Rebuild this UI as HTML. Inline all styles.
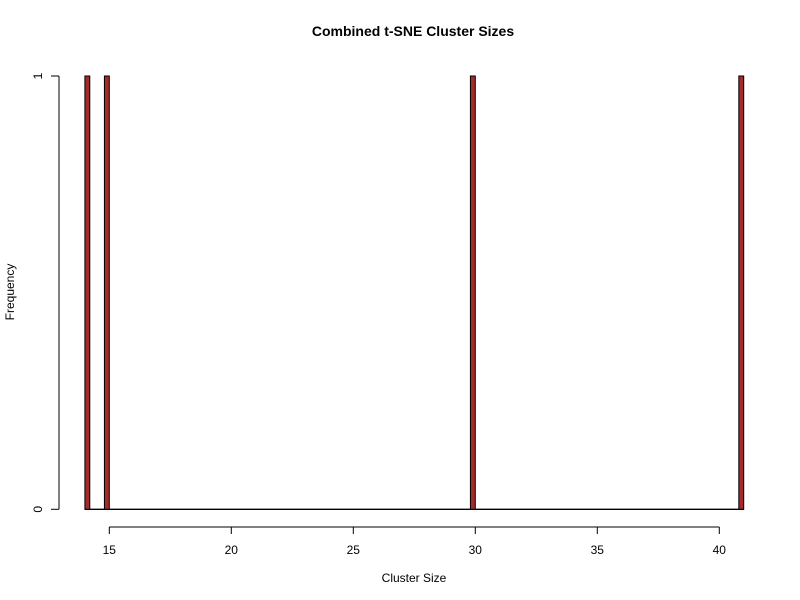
<!DOCTYPE html>
<html><head><meta charset="utf-8"><style>
body{margin:0;background:#fff;}
svg{display:block;font-family:"Liberation Sans",Arial,sans-serif;}
</style></head><body>
<svg id="chart" width="800" height="600">
<rect width="800" height="600" fill="#fff"/>
<text x="413" y="36" text-anchor="middle" font-weight="bold" font-size="14">Combined t-SNE Cluster Sizes</text>
<text x="414" y="582" text-anchor="middle" font-size="12">Cluster Size</text>
<text transform="translate(14,292) rotate(-90)" text-anchor="middle" font-size="12">Frequency</text>
<g id="bars"></g>
<g id="xaxis"></g>
<g id="yaxis"></g>
</svg>
<script>
const clusterSizes = [14, 15, 30, 41];
const xTicks = [15, 20, 25, 30, 35, 40];
const yTicks = [0, 1];
const binWidth = 0.2;
const NS = "http://www.w3.org/2000/svg";
function xs(v){ return 109.3 + (v - 15) * 24.4; }
function ys(v){ return 509.3 - v * 433.3; }
function mk(tag, attrs, parent){ const e=document.createElementNS(NS,tag); for(const k in attrs) e.setAttribute(k,attrs[k]); parent.appendChild(e); return e; }
const minV = Math.min(...clusterSizes), maxV = Math.max(...clusterSizes);
// baseline of empty bins
const bars = document.getElementById('bars');
const base = mk('line',{x1:xs(minV),x2:xs(maxV),y1:ys(0),y2:ys(0),stroke:'#000','stroke-width':1.3},bars);


clusterSizes.forEach(v=>{
  const lo = (v===minV) ? v : v - binWidth;
  const hi = (v===minV) ? v + binWidth : v;
  const count = clusterSizes.filter(c=>c===v).length;
  const r = mk('rect',{x:xs(lo),y:ys(count),width:xs(hi)-xs(lo),height:ys(0)-ys(count),fill:'#a52a2a',stroke:'#000','stroke-width':1},bars);
  
  
});
const xa = document.getElementById('xaxis');
mk('line',{x1:xs(xTicks[0]),x2:xs(xTicks[xTicks.length-1]),y1:527,y2:527,stroke:'#000','stroke-width':1},xa);
xTicks.forEach(t=>{
  mk('line',{x1:xs(t),x2:xs(t),y1:527,y2:534,stroke:'#000','stroke-width':1},xa);
  const tx = mk('text',{x:xs(t),y:554,'text-anchor':'middle','font-size':12},xa);
  tx.textContent=t;
  
  
});
const ya = document.getElementById('yaxis');
mk('line',{x1:59,x2:59,y1:ys(yTicks[0]),y2:ys(yTicks[yTicks.length-1]),stroke:'#000','stroke-width':1},ya);
yTicks.forEach(t=>{
  mk('line',{x1:51,x2:59,y1:ys(t),y2:ys(t),stroke:'#000','stroke-width':1},ya);
  const tx = mk('text',{transform:`translate(42,${ys(t)}) rotate(-90)`,'text-anchor':'middle','font-size':12},ya);
  tx.textContent=t;
  
  
});
</script>
</body></html>
